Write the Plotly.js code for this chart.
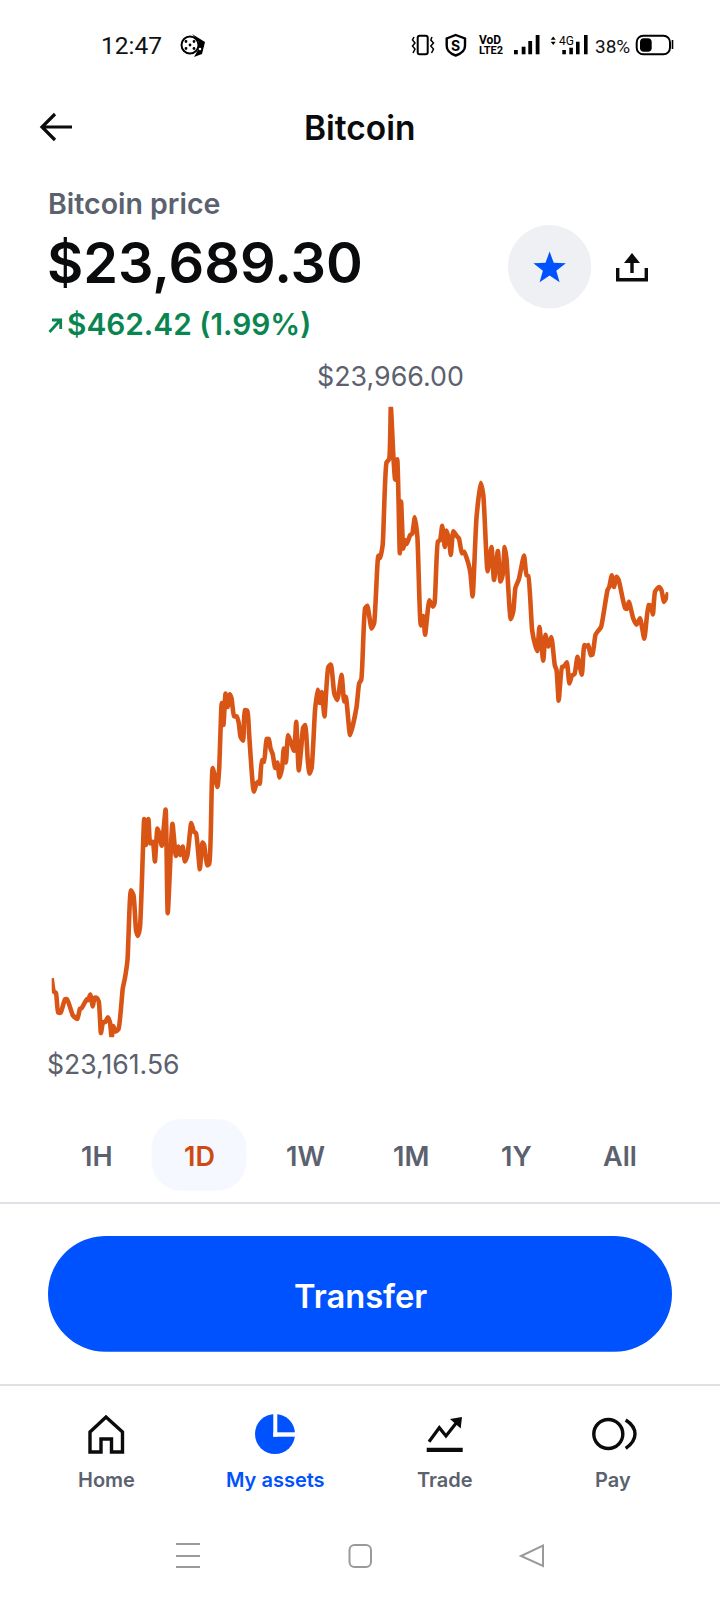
<!DOCTYPE html>
<html><head><meta charset="utf-8"><title>Bitcoin price</title>
<script src="https://cdn.plot.ly/plotly-3.0.1.min.js"></script>
<style>html,body{margin:0;padding:0;background:#fff}#chart{width:720px;height:1600px}</style>
</head><body><div id="chart"></div>
<script>
const minutes=[0,5,10,15,21,31,36,49,54,60,66,70,82,85,90,96,100,105,110,115,120,125,131,136,140,144,149,156,166,171,177,185,191,197,201,206,216,220,226,230,236,241,247,251,257,266,271,282,290,296,300,306,311,317,326,332,337,346,352,356,363,368,376,387,391,397,401,406,411,416,420,426,432,437,441,447,451,457,461,472,479,484,486,491,496,502,507,511,516,522,527,532,538,542,547,552,558,566,571,577,583,587,592,598,602,607,615,621,626,631,637,646,652,660,667,677,683,687,697,712,718,723,732,737,747,753,763,767,773,782,788,792,798,802,807,809,813,816,821,825,829,837,842,848,854,862,868,872,882,890,894,902,907,912,918,922,928,932,938,946,951,958,963,973,978,983,992,1002,1008,1018,1027,1033,1042,1048,1053,1058,1062,1072,1078,1083,1091,1103,1109,1113,1122,1129,1134,1139,1148,1153,1160,1167,1175,1179,1184,1192,1197,1203,1209,1215,1221,1228,1238,1244,1249,1253,1259,1263,1270,1276,1283,1298,1302,1308,1313,1319,1324,1339,1343,1348,1358,1366,1374,1384,1394,1399,1404,1409,1418,1424,1430,1440];
const prices=[23237,23220,23218,23193,23193,23210,23210,23190,23187,23185,23198,23199,23210,23209,23216,23201,23212,23212,23207,23167,23181,23181,23187,23181,23161.56,23176,23169,23172,23224,23237,23260,23349,23343,23298,23291,23301,23440,23407,23440,23409,23411,23386,23428,23422,23406,23452,23320,23434,23393,23405,23394,23405,23386,23394,23435,23424,23422,23376,23410,23407,23381,23383,23505,23481,23503,23588,23560,23600,23583,23599,23594,23571,23571,23562,23545,23540,23579,23578,23549,23475,23486,23488,23485,23515,23513,23542,23542,23530,23523,23505,23512,23493,23505,23530,23512,23547,23539,23527,23564,23502,23532,23556,23560,23515,23498,23505,23579,23605,23588,23602,23571,23634,23637,23600,23592,23624,23590,23596,23547,23583,23613,23618,23709,23712,23683,23690,23776,23773,23790,23895,23899,23966,23902,23873,23899,23870,23779,23845,23785,23796,23791,23802,23804,23825,23800,23687,23699,23675,23719,23711,23715,23794,23796,23814,23787,23808,23796,23777,23807,23801,23798,23779,23781,23766,23753,23724,23824,23869,23853,23756,23787,23745,23782,23743,23751,23787,23773,23695,23705,23735,23746,23776,23751,23750,23681,23662,23654,23685,23642,23675,23660,23672,23636,23630,23591,23634,23635,23640,23613,23623,23625,23647,23624,23662,23660,23662,23649,23650,23675,23680,23685,23732,23736,23751,23736,23749,23745,23709,23708,23717,23696,23688,23696,23670,23713,23712,23701,23730,23736,23732,23717,23729];
const priceLow=23161.56, priceHigh=23966.00;
const rangeLabels=["1H","1D","1W","1M","1Y","All"];
const navLabels=["Home","My assets","Trade","Pay"];

const W=720,H=1600,FONT="Inter, 'Open Sans', sans-serif";
const BLUE="#0052FF",GREY="#5B616E",ORANGE="#D95516",GREEN="#098551";
const fx=x=>x/W, fy=y=>1-y/H;
const P=s=>s.replace(/(-?[\d.]+)[ ,](-?[\d.]+)/g,(m,x,y)=>fx(+x)+","+fy(+y));
const shapes=[],annotations=[];
function path(d,o){o=o||{};shapes.push({type:"path",xref:"paper",yref:"paper",path:P(d),fillcolor:o.fill||"rgba(0,0,0,0)",line:{color:o.stroke||"rgba(0,0,0,0)",width:o.stroke?(o.w||2):0}});}
function rect(x0,y0,x1,y1,fill){shapes.push({type:"rect",xref:"paper",yref:"paper",x0:fx(x0),x1:fx(x1),y0:fy(y1),y1:fy(y0),fillcolor:fill,line:{width:0}});}
function circ(cx,cy,r,o){o=o||{};shapes.push({type:"circle",xref:"paper",yref:"paper",x0:fx(cx-r),x1:fx(cx+r),y0:fy(cy+r),y1:fy(cy-r),fillcolor:o.fill||"rgba(0,0,0,0)",line:{color:o.stroke||"rgba(0,0,0,0)",width:o.stroke?(o.w||2):0}});}
function rr(x0,y0,x1,y1,r){const c=r*0.448;return `M${x0+r} ${y0} L${x1-r} ${y0} C${x1-c} ${y0} ${x1} ${y0+c} ${x1} ${y0+r} L${x1} ${y1-r} C${x1} ${y1-c} ${x1-c} ${y1} ${x1-r} ${y1} L${x0+r} ${y1} C${x0+c} ${y1} ${x0} ${y1-c} ${x0} ${y1-r} L${x0} ${y0+r} C${x0} ${y0+c} ${x0+c} ${y0} ${x0+r} ${y0} Z`;}
function text(t,x,base,size,color,weight,anchor,family){annotations.push({text:t,xref:"paper",yref:"paper",x:fx(x),y:fy(base-0.365*size),xanchor:anchor||"left",yanchor:"middle",showarrow:false,borderpad:0,font:{family:family||FONT,size:size,color:color,weight:weight||400}});}

// status bar
text("12:47",100,54,24.5,"#111",400,"left","Roboto");
circ(190,45,8.5,{stroke:"#000",w:2,fill:"#fff"});
[[190,45],[186,41.5],[194,41.5],[186,48.5],[194,48.5]].forEach(d=>circ(d[0],d[1],1.4,{fill:"#000"}));
path("M192 34 L205 42 L202 54 L194 57 L198 50 L199 42 Z",{fill:"#000"});
circ(200,49,1.3,{fill:"#fff"});
path(rr(417.7,35.7,427.7,54.3,2),{stroke:"#000",w:2});
path("M414 37 L412.5 40 L415 43 L412.5 46 L415 49 L413 53",{stroke:"#000",w:1.5});
path("M432 37 L430.8 40 L433.5 43 L430.8 46 L433.5 49 L431.5 53",{stroke:"#000",w:1.5});
path("M455.7 35 L465 38.5 L465 46 C465 51 460 54 455.7 55.5 C451.4 54 446.7 51 446.7 46 L446.7 38.5 Z",{stroke:"#000",w:2.4,fill:"#fff"});
text("S",455.7,50.5,14,"#000",700,"center");
text("VoD",478,44.5,12,"#000",700,"left","Roboto");
text("LTE2",478,55,11,"#000",700,"left","Roboto");
[[514,50],[521.7,46.7],[528.3,41],[535.7,35]].forEach(b=>rect(b[0],b[1],b[0]+3.8,54.3,"#000"));
path("M553.2 36.5 L555.7 39.7 L550.7 39.7 Z M553.2 45 L555.7 41.8 L550.7 41.8 Z",{fill:"#000"});
text("4G",557.5,45.6,12,"#000",400,"left","Roboto");
[[562.3,50],[569.3,47.7],[576,41.7],[584,35]].forEach(b=>rect(b[0],b[1],b[0]+3.6,54.3,"#000"));
text("38%",594,53,19,"#111",400,"left","Roboto");
path(rr(636.7,35.7,670,54.3,6.5),{stroke:"#000",w:2});
path(rr(640,38.3,651.7,51.7,3.5),{fill:"#000"});
rect(671.7,40,673.3,49,"#000");

// header
path("M72 127 L42.5 127 M55 114 L42 127 L55 140",{stroke:"#0A0B0D",w:3.2});
text("Bitcoin",360,140,33.5,"#0A0B0D",600,"center");
text("Bitcoin price",47,214,28.5,GREY,600);
text("$23,689.30",45.5,282.5,55.8,"#0A0B0D",600);
circ(549.6,266.7,41.7,{fill:"#EEF0F3"});
let star="";for(let i=0;i<10;i++){const r=i%2?7:17,a=-Math.PI/2+i*Math.PI/5;star+=(i?"L":"M")+(549.6+r*Math.cos(a)).toFixed(1)+" "+(268.5+r*Math.sin(a)).toFixed(1)+" ";}
path(star+"Z",{fill:BLUE});
path("M617.7 268 L617.7 279.7 L646.3 279.7 L646.3 268",{stroke:"#0A0B0D",w:3.4});
path("M632 259 L632 273",{stroke:"#0A0B0D",w:3.4});
path("M624 263 L632 253 L640 263 Z",{fill:"#0A0B0D"});
path("M49.5 332 L60 320.5 M52 320 L60.7 320 L60.7 329",{stroke:GREEN,w:2.8});
text("$462.42 (1.99%)",66,335,29.8,GREEN,600);

// chart extremes
text("$23,966.00",316,386,26.8,GREY,400);
text("$23,161.56",45.5,1074,26.6,GREY,400);

// range selector
path(rr(151.5,1119,246.5,1190.7,30),{fill:"#F5F8FF"});
[96.5,199,305,411,516,620].forEach((x,i)=>text(rangeLabels[i],x,1166,27,i===1?"#CF4A12":GREY,600,"center"));
rect(0,1202,W,1204,"#DEE1E6");

// button
path(rr(48,1236,672,1351.7,57.8),{fill:BLUE});
text("Transfer",360,1308,32.7,"#FFFFFF",600,"center");
rect(0,1384,W,1386,"#DEE1E6");

// bottom nav
path("M90 1452 L90 1432 L106 1417 L122.5 1432 L122.5 1452 L111.5 1452 L111.5 1439 L101 1439 L101 1452 Z",{stroke:"#0A0B0D",w:3.4});
circ(275,1434,20,{fill:BLUE});
rect(273.3,1412,277.3,1436.7,"#fff");
rect(273.3,1432.3,297,1436.7,"#fff");
path("M429 1441.7 L439.3 1427.7 L446 1436 L459 1419.5",{stroke:"#0A0B0D",w:3.2});
path("M450 1419 L462 1417 L460.7 1428.5 Z",{fill:"#0A0B0D"});
rect(426.7,1447.7,462.7,1452,"#0A0B0D");
circ(608.3,1434,14.5,{stroke:"#0A0B0D",w:3.4});
path("M625.7 1420 C632 1424 635 1429 635 1434 C635 1439 632 1444 625.7 1448.3",{stroke:"#0A0B0D",w:3.4});
[106,275,445,613].forEach((x,i)=>text(navLabels[i],x,1487,20,i===1?BLUE:GREY,600,"center"));

// android nav
[1544,1556,1567].forEach(y=>rect(176,y-1,200,y+1,"#9A9A9A"));
path(rr(349.5,1545,371,1567,5),{stroke:"#9A9A9A",w:2});
path("M543 1545.5 L543 1566 L521 1556 Z",{stroke:"#9A9A9A",w:2});

const trace={type:"scatter",mode:"lines",x:minutes,y:prices,cliponaxis:false,hoverinfo:"skip",line:{color:ORANGE,width:4.6,shape:"spline",smoothing:0.5,simplify:false}};
const layout={width:W,height:H,margin:{l:0,r:0,t:0,b:0,pad:0},paper_bgcolor:"#fff",plot_bgcolor:"#fff",showlegend:false,hovermode:false,
 xaxis:{domain:[51.7/W,668.3/W],range:[0,1440],visible:false,fixedrange:true},
 yaxis:{domain:[1-1037.3/H,1-406.7/H],range:[priceLow,priceHigh],visible:false,fixedrange:true},
 shapes:shapes,annotations:annotations};
Plotly.newPlot("chart",[trace],layout,{displayModeBar:false,staticPlot:true});
</script></body></html>
